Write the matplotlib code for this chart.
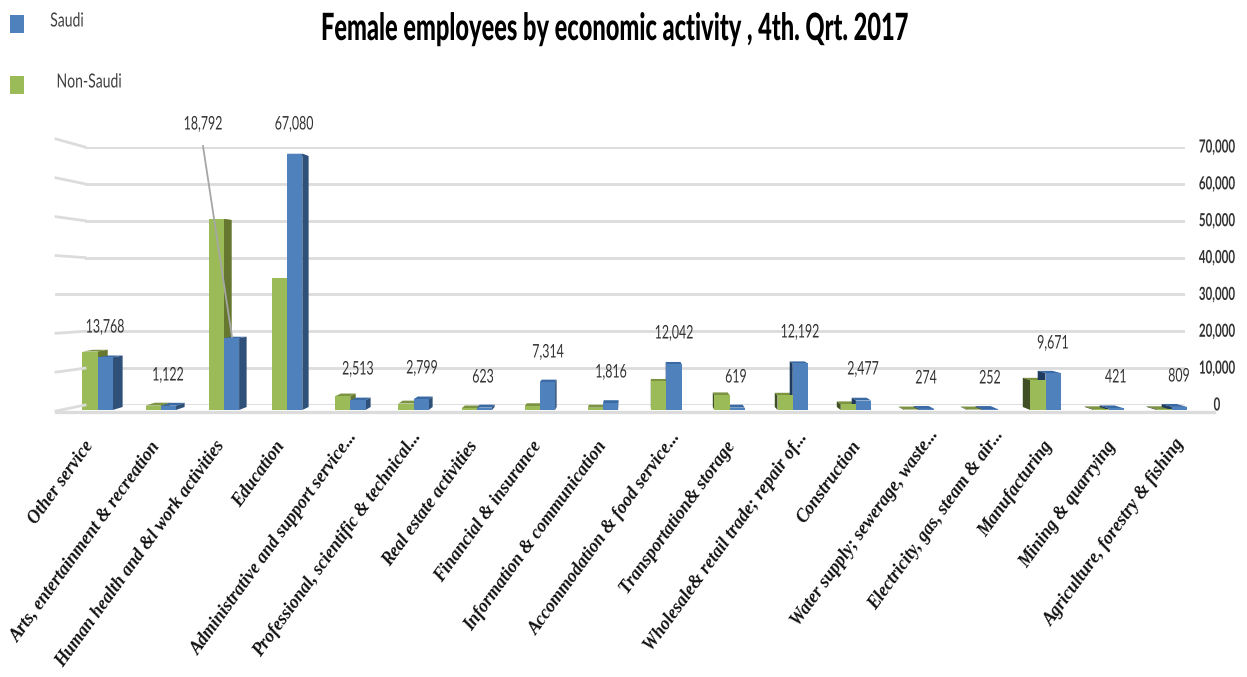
import matplotlib
matplotlib.use("Agg")
import matplotlib.pyplot as plt
from matplotlib.patches import Polygon, Rectangle
from matplotlib.lines import Line2D
from matplotlib.patheffects import AbstractPathEffect
from matplotlib.transforms import Affine2D, ScaledTranslation

W, H = 1247, 677

categories = ["Other service", "Arts, entertainment & recreation", "Human health and &l work activities",
              "Education", "Administrative and support service...", "Professional, scientific & technical...",
              "Real estate activities", "Financial & insurance", "Information & communication",
              "Accommodation & food service...", "Transportation& storage", "Wholesale& retail trade; repair of...",
              "Construction", "Water supply; sewerage, waste...", "Electricity, gas, steam & air...",
              "Manufacturing", "Mining & quarrying", "Agriculture, forestry & fishing"]
saudi = [13768, 1122, 18792, 67080, 2513, 2799, 623, 7314, 1816, 12042, 619, 12192, 2477, 274, 252, 9671, 421, 809]
non_saudi = [15300, 1150, 50000, 34500, 3600, 1700, 400, 1000, 600, 7500, 3900, 3800, 1500, 120, 120, 7800, 180, 200]
y_ticks = [0, 10000, 20000, 30000, 40000, 50000, 60000, 70000]

SANS = ["Lato", "DejaVu Sans"]
SERIF = ["Liberation Serif", "DejaVu Serif"]
GREEN, BLUE = "#9bbb59", "#4f81bd"


class Squeeze(AbstractPathEffect):
    """Condense a text horizontally along its own baseline (no condensed font is installed)."""

    def __init__(self, sx, anchor="center"):
        super().__init__()
        self.sx = sx
        self.anchor = anchor

    def draw_path(self, renderer, gc, tpath, affine, rgbFace=None):
        ext = tpath.get_extents()
        cx = ext.x0 if self.anchor == "left" else (ext.x0 + ext.x1) / 2
        a = Affine2D().translate(-cx, 0).scale(self.sx, 1).translate(cx, 0) + affine
        renderer.draw_path(gc, tpath, a, rgbFace)


fig = plt.figure(figsize=(W / 100, H / 100), dpi=100, facecolor="white")

def rect(x0, x1, ytop, ybot):
    return [x0 / W, 1 - ybot / H, (x1 - x0) / W, (ybot - ytop) / H]

# Back wall axes: value 0 at y=405 px, 70000 at y=147 px
back = fig.add_axes(rect(85, 1185, 147, 405))
back.set_xlim(0, 1)
back.set_ylim(0, 70000)
back.set_yticks(y_ticks)
back.set_yticklabels([f"{t:,}" for t in y_ticks], family=SANS, fontsize=13, weight="bold",
                      color="#333333", ha="center")
back.yaxis.tick_right()
back.tick_params(axis="y", length=0, pad=23)
for lab in back.get_yticklabels():
    lab.set_path_effects([Squeeze(0.64)])
    lab.set_ha("center")
    lab.set_va("center")
back.set_xticks([])
back.grid(axis="y", color="#dcdcdc", lw=2)
back.set_axisbelow(True)
for s in back.spines.values():
    s.set_visible(False)
back.patch.set_alpha(0)

# Front plane axes: x is the category index, value 0 at y=410 px, 3.82 px per 1000
PX_CAT = 63.2
X0 = 97.5
PX_VAL = 3.82 / 1000
x_l, x_r = 20, 1230
y_t = 100
ax = fig.add_axes(rect(x_l, x_r, y_t, 410))
ax.set_xlim((x_l - X0) / PX_CAT, (x_r - X0) / PX_CAT)
ax.set_ylim(0, (410 - y_t) / PX_VAL)
ax.patch.set_alpha(0)
for s in ax.spines.values():
    s.set_visible(False)
ax.set_yticks([])
ax.set_xticks(range(len(categories)))
ax.set_xticklabels(categories, rotation=54, ha="right", va="top", rotation_mode="anchor",
                   family=SERIF, fontsize=13, style="italic", weight="bold", color="#111111")
ax.tick_params(axis="x", length=0, pad=20)

# Per-label nudges in pixels
label_dx = [-14, -11, -9, -12, -3, -2, -9, -8, -6, 4, -4, 5, -5, 9, 11, -3, -3, 3]
label_dy = [0, 0, 0, 0, 9, 9, 0, 0, 0, 9, 0, 9, 0, 11, 11, 0, 0, 2]
for lab, dx, dy in zip(ax.get_xticklabels(), label_dx, label_dy):
    lab.set_transform(lab.get_transform() + ScaledTranslation(dx / 100, dy / 100, fig.dpi_scale_trans))

def depth(xc, v):
    """Perspective offset of a bar's rear face, in data units."""
    xpx = X0 + xc * PX_CAT
    dxp = 0.019 * (635 - xpx)
    ypx = 410 - v * PX_VAL
    dyp = 0.6 * (-5 - 0.035 * (ypx - 410))
    return dxp / PX_CAT, -dyp / PX_VAL

bar_w = 15.2 / PX_CAT
sides = {GREEN: ("#66782f", "#404f24", "#7c9441"), BLUE: ("#2f5078", "#1e3a5f", "#3a6aa3")}

def draw_3d(xc, v, color):
    left, right = xc - bar_w, xc
    if color == BLUE:
        left, right = xc, xc + bar_w
    rcol, lcol, tcol = sides[color]
    dx_r, dy_t_r = depth(right, v)
    dx_l, dy_t_l = depth(left, v)
    dx0_r, dy0 = depth(right, 0)
    dx0_l, _ = depth(left, 0)
    top = [(left, v), (right, v), (right + dx_r, v + dy_t_r), (left + dx_l, v + dy_t_l)]
    ax.add_patch(Polygon(top, facecolor=tcol, edgecolor="none", zorder=2))
    if dx_r > 0:
        side = [(right, 0), (right, v), (right + dx_r, v + dy_t_r), (right + dx0_r, dy0)]
        ax.add_patch(Polygon(side, facecolor=rcol, edgecolor="none", zorder=2))
    if dx_l < 0:
        side = [(left, 0), (left, v), (left + dx_l, v + dy_t_l), (left + dx0_l, dy0)]
        ax.add_patch(Polygon(side, facecolor=lcol, edgecolor="none", zorder=2))

for i, n in enumerate(non_saudi):
    draw_3d(i, n, GREEN)
for i, s in enumerate(saudi):
    draw_3d(i, s, BLUE)

xs = list(range(len(categories)))
ax.bar(xs, non_saudi, width=-bar_w, align="edge", color=GREEN, zorder=3)
ax.bar(xs, saudi, width=bar_w, align="edge", color=BLUE, zorder=3)

# Figure-level furniture in pixel coordinates
def P(x, y):
    return (x / W, 1 - y / H)

def fig_line(x0, y0, x1, y1, color="#dcdcdc", lw=2, z=1):
    a, b = P(x0, y0), P(x1, y1)
    fig.add_artist(Line2D([a[0], b[0]], [a[1], b[1]], color=color, lw=lw, zorder=z))

for t in y_ticks:
    fig_line(56, 411 - t * 272 / 70000, 85, 405 - t * 258 / 70000)
fig_line(56, 411.5, 1214, 411.5, lw=2.4)

# Data labels
label_pos = [(105, 327), (168, 375), (203, 124), (294, 124), (358, 369), (422, 368), (483, 377), (548, 352),
             (611, 372), (674, 333), (736, 377), (800, 332), (863, 369), (926, 378), (990, 378), (1053, 343),
             (1116, 377), (1179, 376)]
for v, (lx, ly) in zip(saudi, label_pos):
    px = P(lx, ly)
    t = fig.text(px[0], px[1], f"{v:,}", family=SANS, fontsize=13.5, color="#333333", ha="center", va="center", zorder=6)
    t.set_path_effects([Squeeze(0.66)])
fig_line(203, 146, 232, 337, color="#a6a6a6", lw=1.3, z=5)

# Title and legend
tp = P(614, 29)
title = fig.text(tp[0], tp[1], "Female employees by economic activity , 4th. Qrt. 2017", family=SANS,
                 fontsize=27, weight="black", color="#000000", ha="center", va="center")
tw = title.get_window_extent(fig.canvas.get_renderer()).width
title.set_path_effects([Squeeze(587 / tw)])

for label, color, ytop, tx, ty in [("Saudi", BLUE, 15, 50, 21), ("Non-Saudi", GREEN, 76, 56, 82)]:
    a = P(10, ytop + 18)
    fig.add_artist(Rectangle(a, 14 / W, 18 / H, facecolor=color, edgecolor="none", transform=fig.transFigure))
    b = P(tx, ty)
    t = fig.text(b[0], b[1], label, family=SANS, fontsize=14, color="#404040", ha="left", va="center")
    t.set_path_effects([Squeeze(0.72, anchor="left")])

fig.savefig("out.png", dpi=100, facecolor="white")
